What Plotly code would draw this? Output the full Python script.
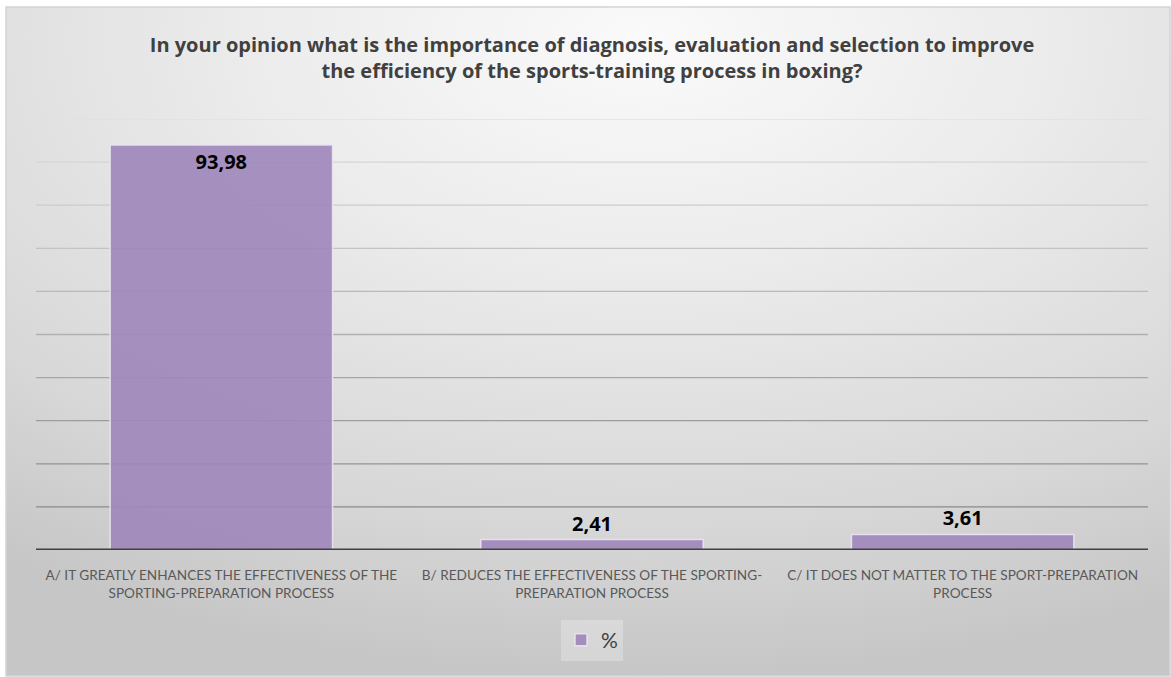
import plotly.graph_objects as go
import urllib.parse

# ---- data ----
categories = [
    "A/ IT GREATLY ENHANCES THE EFFECTIVENESS OF THE<br>SPORTING-PREPARATION PROCESS",
    "B/ REDUCES THE EFFECTIVENESS OF THE SPORTING-<br>PREPARATION PROCESS",
    "C/ IT DOES NOT MATTER TO THE SPORT-PREPARATION<br>PROCESS",
]
values = [93.98, 2.41, 3.61]
series_name = "%"
grid_values = [10, 20, 30, 40, 50, 60, 70, 80, 90, 100]
title_text = ("In your opinion what is the importance of diagnosis, evaluation and selection to improve"
              "<br>the efficiency of the sports-training process in boxing?")

W, H = 1171, 677
ML, MR, MT, MB = 36, 23, 119, 127
pw, ph = W - ML - MR, H - MT - MB

label_font = dict(family="Open Sans, sans-serif", size=20, color="#000000", weight="bold")

fig = go.Figure()
fig.add_trace(go.Bar(
    x=categories, y=values, name=series_name,
    marker=dict(color="rgba(158,136,188,0.92)", line=dict(color="rgba(235,228,242,0.9)", width=1.5)),
    texttemplate="%{y:.2f}",
    textposition=["inside", "outside", "outside"],
    insidetextanchor="end",
    textfont=label_font,
    outsidetextfont=label_font,
    insidetextfont=label_font,
    cliponaxis=False,
    showlegend=True,
))

# gridlines with gradient shading (lighter at top, darker at bottom)
shapes = []
n = len(grid_values)
for i, gv in enumerate(grid_values):
    t = i / (n - 1)
    c = int(138 + (224 - 138) * t)
    shapes.append(dict(type="line", xref="paper", yref="y", x0=0, x1=1, y0=gv, y1=gv,
                       line=dict(color=f"rgb({c},{c},{c})", width=1.3), layer="below"))
# baseline
shapes.append(dict(type="line", xref="paper", yref="y", x0=0, x1=1, y0=0, y1=0,
                   line=dict(color="#404040", width=3), layer="above"))
# chart border
bx0 = (6 - ML) / pw
bx1 = (W - 1 - ML) / pw
by1 = (MT + ph - 7) / ph
by0 = (MT + ph - (H - 1)) / ph
shapes.append(dict(type="rect", xref="paper", yref="paper", x0=bx0, x1=bx1, y0=by0, y1=by1,
                   line=dict(color="#d4d4d4", width=1.5), fillcolor="rgba(0,0,0,0)", layer="below"))

svg = """<svg xmlns='http://www.w3.org/2000/svg' width='1165' height='670' preserveAspectRatio='none'>
<defs><radialGradient id='g' cx='55%' cy='5%' r='95%' fx='55%' fy='5%'>
<stop offset='0' stop-color='#fafafa'/>
<stop offset='0.35' stop-color='#ececec'/>
<stop offset='0.75' stop-color='#d8d8d8'/>
<stop offset='1' stop-color='#c6c6c6'/>
</radialGradient></defs>
<rect width='1165' height='670' fill='url(#g)'/></svg>"""
src = "data:image/svg+xml;charset=utf-8," + urllib.parse.quote(svg)

fig.update_layout(
    width=W, height=H,
    margin=dict(l=ML, r=MR, t=MT, b=MB),
    paper_bgcolor="white",
    plot_bgcolor="rgba(0,0,0,0)",
    separators=",.",
    bargap=0.4,
    title=dict(text=title_text, x=0.5, xref="paper", xanchor="center", y=1 - 52 / H, yanchor="middle",
               font=dict(family="Open Sans, sans-serif", size=20, color="#404040", weight="bold")),
    xaxis=dict(showgrid=False, showline=False, ticks="outside", ticklen=13, tickcolor="rgba(0,0,0,0)",
               zeroline=False,
               tickfont=dict(family="Lato, sans-serif", size=13.6, color="#595959")),
    yaxis=dict(range=[0, 100], showgrid=False, showticklabels=False, zeroline=False, showline=False),
    legend=dict(orientation="h", x=0.5, xanchor="center", y=(MT + ph - 640) / ph, yanchor="middle",
                bgcolor="rgba(255,255,255,0.25)", itemwidth=30,
                font=dict(family="Lato, sans-serif", size=21, color="#404040")),
    shapes=shapes,
    images=[dict(source=src, xref="paper", yref="paper", x=bx0, y=by1, sizex=bx1 - bx0, sizey=by1 - by0,
                 sizing="stretch", xanchor="left", yanchor="top", layer="below")],
)

fig.write_html("out.html")
